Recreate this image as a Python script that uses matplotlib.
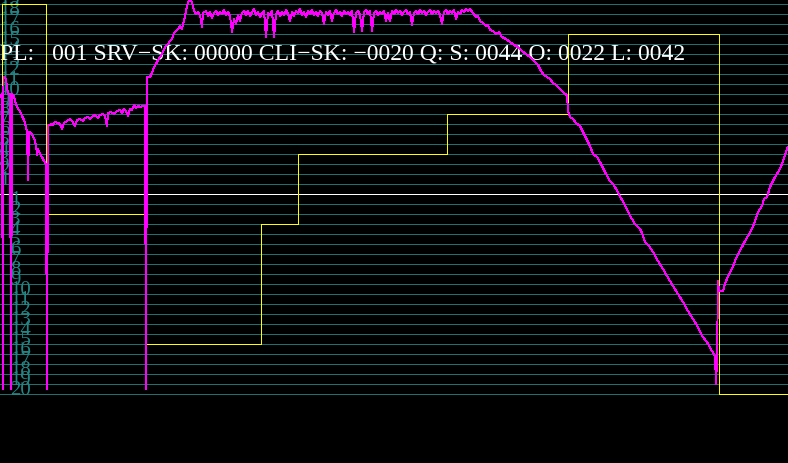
import matplotlib
matplotlib.use("Agg")
import matplotlib.pyplot as plt
import numpy as np

# ---- data (signal units: 10 per grid division, 0 at the white reference line) ----
grid_levels = list(range(-200, 200, 10))
upper_labels = [str(k) for k in range(1, 20)]
upper_levels = [10 * k for k in range(1, 20)]
lower_labels = [str(k) for k in range(1, 21)]
lower_levels = [-10 * k for k in range(1, 21)]

step_x = [0, 2, 46, 146, 261, 298, 447, 568, 719, 788]
step_y = [100, 190, -20, -150, -30, 40, 80, 160, -200, -200]

sig_x = [0, 2, 3, 3.5, 6, 7, 8, 10, 11, 12, 14, 16, 18, 20, 22, 24, 26, 27, 28, 29, 31, 33, 35, 36, 37, 38,
         40, 42, 44, 46, 47, 48,
         51, 53, 55, 58, 60, 62, 64, 67, 70, 72, 75, 77, 80, 83, 85, 88, 90, 93, 95, 98, 100, 103, 105,
         107, 108, 111, 114, 117, 120, 122, 124, 126, 128, 130, 132, 134, 136, 138, 140, 143, 145, 146,
         147, 150, 152, 154, 156, 158, 160, 162, 164, 166, 168, 170, 172, 174, 176, 178, 180, 182, 184,
         186, 188, 190, 192, 194, 196,
         198, 200, 202, 203, 206, 208, 210, 212, 214, 216, 218, 220, 222, 224, 226, 228, 230, 232, 234,
         236, 238, 240, 242, 244, 246, 248, 250, 252, 254, 256, 258, 260, 262, 264, 266, 268, 270, 272,
         274, 276, 278, 280, 282, 284, 286, 288, 290, 292, 294, 296, 298, 300, 302, 304, 306, 308, 310,
         312, 314, 316, 318, 320, 322, 324, 326, 328, 330, 332, 334, 336, 338, 340, 342, 344, 346, 348,
         350, 352, 354, 356, 358, 360, 362, 364, 366, 368, 370, 372, 374, 376, 378, 380, 382, 384, 386,
         388, 390, 392, 394, 396, 398, 400, 402, 404, 406, 408, 410, 412, 414, 416, 418, 420, 422, 424,
         426, 428, 430, 432, 434, 436, 438, 440, 442, 444, 446, 448, 450, 452, 454, 456, 458, 460, 462,
         464, 466, 468, 470,
         473, 476, 478, 480, 483, 486, 488, 490, 493, 496, 499, 502, 506, 510, 514, 518, 522, 526, 530,
         534, 538, 541, 544, 547, 550, 553, 556, 559, 562, 565, 567, 568, 570, 573,
         576, 580, 585, 590, 593, 597, 600, 605, 610, 613, 618, 620, 623, 628, 632, 635, 640, 642, 645,
         649, 653, 658, 663, 667, 670, 673, 678, 683, 688, 693, 698, 702, 707, 712, 715, 716, 717, 718,
         719, 723, 725, 728, 732, 735, 738, 742, 745, 748, 752, 755, 758, 762, 764, 767, 770, 775, 780,
         783, 787, 788]
sig_y = [97, 100, -195, 117, 115, 107, 100, 100, -195, 100, 98, 90, 85, 83, 78, 74, 67, 63, 14, 62, 61, 58, 53, 49, 39, 45,
         40, 37, 33, 30, -195, 68,
         70, 69, 72, 71, 70, 65, 71, 73, 75, 73, 68, 74, 75, 73, 76, 77, 75, 78, 79, 76, 79, 80, 78,
         68, 81, 82, 80, 83, 84, 81, 85, 83, 78, 85, 84, 89, 86, 88, 87, 88, 88, -195,
         117, 117, 121, 127, 130, 134, 137, 140, 145, 148, 150, 153, 155, 161, 163, 165, 168, 165, 173,
         183, 192, 195, 192, 183, 180,
         182, 179, 167, 181, 183, 178, 182, 176, 181, 183, 179, 182, 180, 184, 179, 182, 178, 162, 175,
         170, 179, 173, 181, 183, 179, 183, 178, 182, 185, 179, 182, 177, 181, 183, 157, 181, 179, 183,
         157, 180, 183, 178, 182, 179, 184, 180, 173, 182, 178, 183, 181, 185, 179, 182, 177, 183, 180,
         184, 179, 182, 178, 183, 181, 170, 182, 179, 183, 173, 181, 184, 180, 182, 178, 183, 180, 182,
         179, 183, 162, 181, 183, 179, 163, 182, 184, 180, 183, 163, 181, 183, 179, 182, 180, 183, 173,
         181, 173, 183, 180, 184, 181, 183, 179, 182, 184, 180, 182, 169, 181, 183, 180, 184, 181, 183,
         179, 182, 184, 180, 183, 181, 183, 179, 170, 182, 184, 180, 183, 181, 184, 175, 182, 180, 184,
         182, 185, 183, 185,
         181, 177, 178, 173, 171, 168, 169, 164, 163, 160, 162, 157, 155, 152, 149, 147, 143, 140, 137,
         133, 129, 123, 119, 117, 115, 111, 109, 106, 103, 100, 99, 83, 77, 75,
         71, 68, 58, 48, 40, 37, 32, 22, 13, 10, 2, -3, -7, -18, -25, -30, -35, -39, -48,
         -52, -58, -67, -75, -82, -87, -92, -100, -108, -117, -125, -133, -142, -148, -157, -162, -190, -165, -87,
         -97, -97, -90, -82, -75, -67, -60, -53, -47, -42, -35, -27, -18, -12, -5, -3, 7, 17, 25,
         33, 45, 47]

header = "PL:   001 SRV\u2212SK: 00000 CLI\u2212SK: \u22120020 Q: S: 0044 O: 0022 L: 0042"

# ---- colours ----
BG = "#000000"
TEAL = "#207070"
LABEL = "#248585"
YELLOW = "#ffff00"
MAGENTA = "#ff00ff"
WHITE = "#ffffff"

fig = plt.figure(figsize=(7.88, 4.64), dpi=100, facecolor=BG)
ax = fig.add_axes([0, 0, 1, 1])
ax.set_facecolor(BG)
ax.set_xlim(0, 788)
ax.set_ylim(-269, 195)
ax.axis("off")

for g in grid_levels:
    ax.axhline(g, color=WHITE if g == 0 else TEAL, lw=0.6, antialiased=False, zorder=1)

serif = ["Liberation Serif", "DejaVu Serif"]
for lab, lev in zip(upper_labels, upper_levels):
    ax.text(-1, lev, lab, color=LABEL, fontsize=15, family=serif, ha="left", va="baseline", zorder=2)
for lab, lev in zip(lower_labels, lower_levels):
    ax.text(10, lev, lab, color=LABEL, fontsize=15, family=serif, ha="left", va="baseline", zorder=2)

ax.text(0, 135, header, color=WHITE, fontsize=17.1, family=serif, ha="left", va="baseline", zorder=3)

ax.plot(step_x, step_y, drawstyle="steps-post", color=YELLOW, lw=0.7, antialiased=False, zorder=4)
ax.plot(sig_x, sig_y, color=MAGENTA, lw=0.7, antialiased=False, zorder=5)

fig.savefig("out.png", dpi=100, facecolor=BG)
